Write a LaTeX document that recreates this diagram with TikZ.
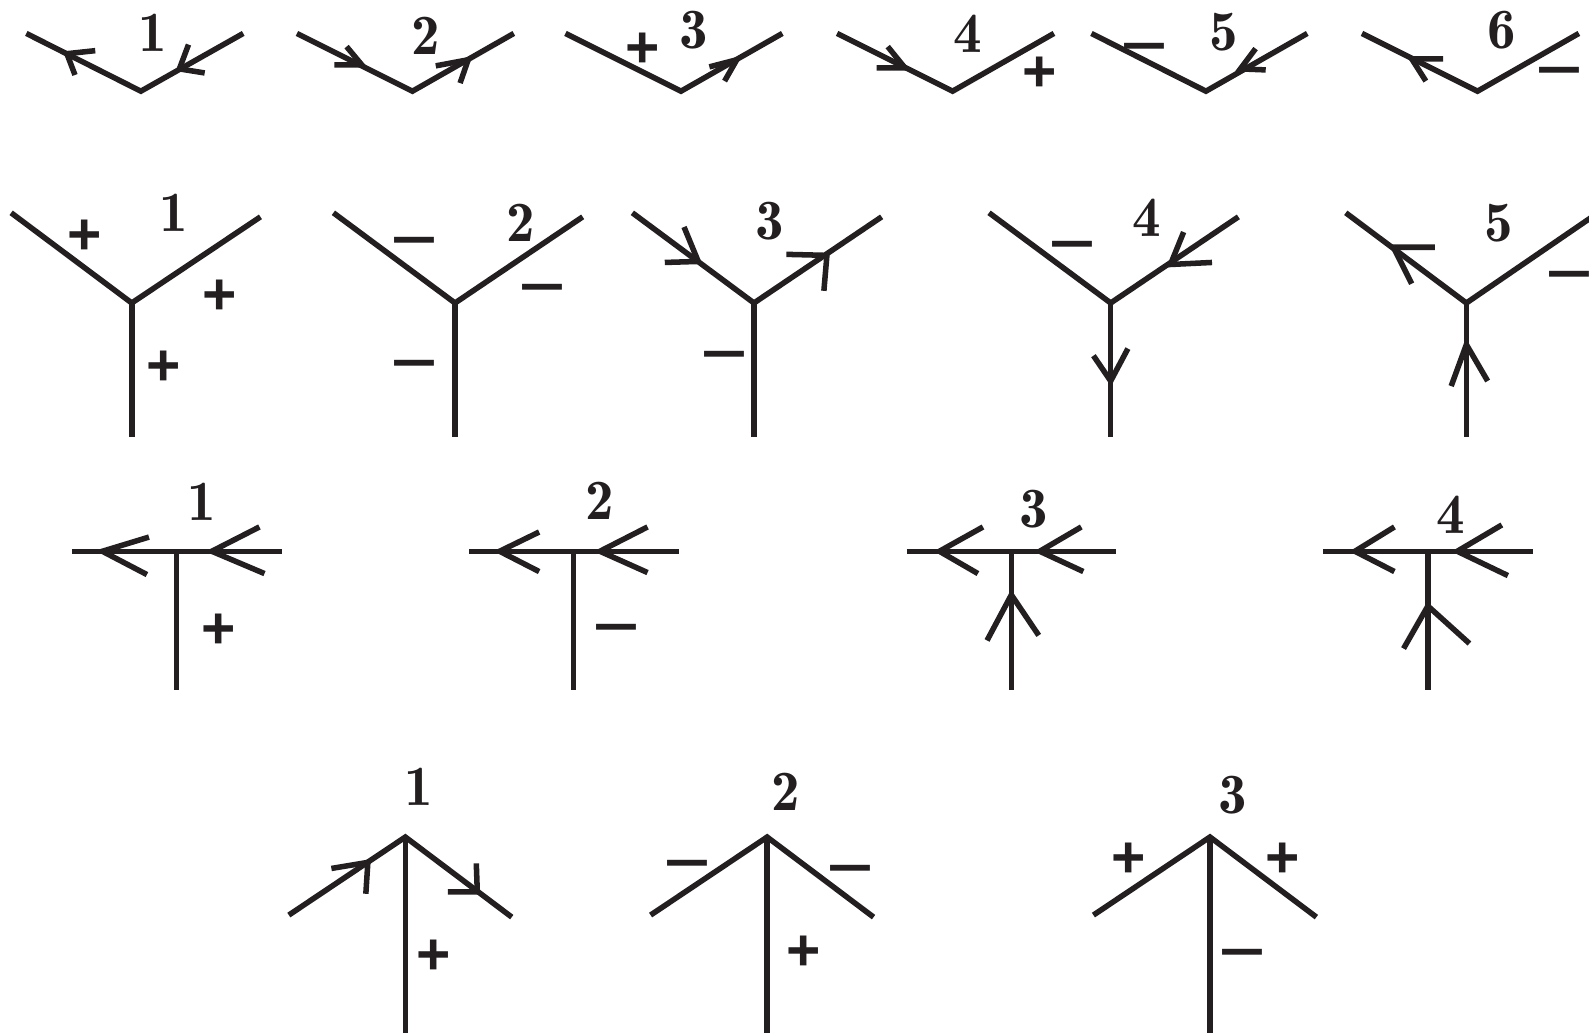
\documentclass[tikz,border=0pt]{standalone}
\usepackage{fontspec}
\newfontfamily\signfont{Liberation Sans}
\usetikzlibrary{positioning}
\tikzset{
  edge/.style={draw=ink,line width=1.55pt},
  barb/.style={draw=ink,line width=1.55pt},
  numlabel/.style={text=ink,inner sep=0pt,font=\fontseries{b}\fontsize{16}{18}\selectfont},
  plus/.style={text=ink,inner sep=0pt,xshift=0.01cm,yshift=-0.03cm,font=\signfont\bfseries\fontsize{16.5}{18}\selectfont},
  minus/.style={text=ink,inner sep=0pt,xshift=0.01cm,yshift=-0.13cm,font=\signfont\fontsize{23}{24}\selectfont}
}
\definecolor{ink}{RGB}{35,31,32}
\begin{document}
\begin{tikzpicture}[x=0.01cm,y=-0.01cm]
\useasboundingbox (0,0) rectangle (1568,1019);
\clip (0,0) rectangle (1568,1019);
\coordinate (va1l) at (26,33); \coordinate (va1c) at (139,90); \coordinate (va1r) at (240,33);
\coordinate (va1p) at (66,53); \coordinate (va1q) at (177,68);
\draw[edge] (va1l)--(va1c)--(va1r);
\draw[barb] (va1p) +(28,-3) -- (va1p) -- +(8,21);
\draw[barb] (va1q) +(9,-24) -- (va1q) -- +(25,4);
\node[numlabel] (na1) at (151,32) {1};
\coordinate (va2l) at (293,33); \coordinate (va2c) at (407,90); \coordinate (va2r) at (507,33);
\coordinate (va2p) at (357,64); \coordinate (va2q) at (462,59);
\draw[edge] (va2l)--(va2c)--(va2r);
\draw[barb] (va2p) +(-15,-18) -- (va2p) -- +(-27,0);
\draw[barb] (va2q) +(-32,6) -- (va2q) -- +(-8,23);
\node[numlabel] (na2) at (420,35) {2};
\coordinate (va3l) at (558,33); \coordinate (va3c) at (672,90); \coordinate (va3r) at (772,33);
\coordinate (va3q) at (727,59);
\draw[edge] (va3l)--(va3c)--(va3r);
\draw[barb] (va3q) +(-27,7) -- (va3q) -- +(-12,21);
\node[plus] (sa3) at (633,47) {+};
\node[numlabel] (na3) at (685,30) {3};
\coordinate (va4l) at (826,33); \coordinate (va4c) at (940,90); \coordinate (va4r) at (1040,33);
\coordinate (va4p) at (893,67);
\draw[edge] (va4l)--(va4c)--(va4r);
\draw[barb] (va4p) +(-17,-21) -- (va4p) -- +(-28,0);
\node[plus] (sa4) at (1025,70) {+};
\node[numlabel] (na4) at (955,33) {4};
\coordinate (va5l) at (1077,33); \coordinate (va5c) at (1190,90); \coordinate (va5r) at (1290,33);
\coordinate (va5q) at (1224,68);
\draw[edge] (va5l)--(va5c)--(va5r);
\draw[barb] (va5q) +(15,-20) -- (va5q) -- +(25,1);
\node[minus] (sa5) at (1128,45) {−};
\node[numlabel] (na5) at (1208,32) {5};
\coordinate (va6l) at (1344,33); \coordinate (va6c) at (1458,90); \coordinate (va6r) at (1558,33);
\coordinate (va6p) at (1393,58);
\draw[edge] (va6l)--(va6c)--(va6r);
\draw[barb] (va6p) +(31,0) -- (va6p) -- +(14,22);
\node[minus] (sa6) at (1538,68) {−};
\node[numlabel] (na6) at (1482,30) {6};
\coordinate (yb1l) at (11,210); \coordinate (yb1c) at (130,299); \coordinate (yb1r) at (257,214); \coordinate (yb1d) at (130,431);
\draw[edge] (yb1l)--(yb1c)--(yb1r);
\draw[edge] (yb1c)--(yb1d);
\node[plus] (sb1a) at (83,231) {+};
\node[plus] (sb1b) at (216,290) {+};
\node[plus] (sb1c) at (161,360) {+};
\node[numlabel] (nb1) at (171,210) {1};
\coordinate (yb2l) at (329,210); \coordinate (yb2c) at (449,299); \coordinate (yb2r) at (575,214); \coordinate (yb2d) at (449,431);
\draw[edge] (yb2l)--(yb2c)--(yb2r);
\draw[edge] (yb2c)--(yb2d);
\node[minus] (sb2a) at (408,236) {−};
\node[minus] (sb2b) at (534,282) {−};
\node[minus] (sb2c) at (408,357) {−};
\node[numlabel] (nb2) at (514,220) {2};
\coordinate (yb3l) at (624,210); \coordinate (yb3c) at (744,299); \coordinate (yb3r) at (870,214); \coordinate (yb3d) at (744,431);
\coordinate (yb3p) at (689,258); \coordinate (yb3q) at (816,252);
\draw[edge] (yb3l)--(yb3c)--(yb3r);
\draw[edge] (yb3c)--(yb3d);
\draw[barb] (yb3p) +(-14,-34) -- (yb3p) -- +(-33,1);
\draw[barb] (yb3q) +(-40,-1) -- (yb3q) -- +(-3,35);
\node[minus] (sb3) at (714,349) {−};
\node[numlabel] (nb3) at (760,218) {3};
\coordinate (yb4l) at (976,210); \coordinate (yb4c) at (1096,299); \coordinate (yb4r) at (1222,214); \coordinate (yb4d) at (1096,431);
\coordinate (yb4p) at (1155,261); \coordinate (yb4e) at (1096,376);
\draw[edge] (yb4l)--(yb4c)--(yb4r);
\draw[edge] (yb4c)--(yb4d);
\draw[barb] (yb4p) +(13,-32) -- (yb4p) -- +(41,-2);
\draw[barb] (yb4e) +(-17,-25) -- (yb4e) -- +(17,-32);
\node[minus] (sb4) at (1057,240) {−};
\node[numlabel] (nb4) at (1132,215) {4};
\coordinate (yb5l) at (1328,210); \coordinate (yb5c) at (1447,299); \coordinate (yb5r) at (1574,212); \coordinate (yb5d) at (1447,431);
\coordinate (yb5p) at (1375,244); \coordinate (yb5e) at (1447,340);
\draw[edge] (yb5l)--(yb5c)--(yb5r);
\draw[edge] (yb5c)--(yb5d);
\draw[barb] (yb5p) +(41,0) -- (yb5p) -- +(18,36);
\draw[barb] (yb5e) +(-15,41) -- (yb5e) -- +(21,36);
\node[minus] (sb5) at (1548,270) {−};
\node[numlabel] (nb5) at (1479,220) {5};
\coordinate (tc1l) at (71,544); \coordinate (tc1c) at (174,544); \coordinate (tc1r) at (278,544); \coordinate (tc1d) at (174,681);
\coordinate (tc1p) at (101,544); \coordinate (tc1q) at (209,544);
\draw[edge] (tc1l)--(tc1r);
\draw[edge] (tc1c)--(tc1d);
\draw[barb] (tc1p) +(46,-14) -- (tc1p) -- +(44,23);
\draw[barb] (tc1q) +(47,-24) -- (tc1q) -- +(52,22);
\node[plus] (sc1) at (215,620) {+};
\node[numlabel] (nc1) at (199,495) {1};
\coordinate (tc2l) at (463,544); \coordinate (tc2c) at (566,544); \coordinate (tc2r) at (670,544); \coordinate (tc2d) at (566,681);
\coordinate (tc2p) at (493,544); \coordinate (tc2q) at (592,544);
\draw[edge] (tc2l)--(tc2r);
\draw[edge] (tc2c)--(tc2d);
\draw[barb] (tc2p) +(39,-19) -- (tc2p) -- +(39,20);
\draw[barb] (tc2q) +(47,-24) -- (tc2q) -- +(47,21);
\node[minus] (sc2) at (607,618) {−};
\node[numlabel] (nc2) at (592,494) {2};
\coordinate (tc3l) at (895,544); \coordinate (tc3c) at (998,544); \coordinate (tc3r) at (1101,544); \coordinate (tc3d) at (998,681);
\coordinate (tc3p) at (927,544); \coordinate (tc3q) at (1026,544); \coordinate (tc3e) at (998,587);
\draw[edge] (tc3l)--(tc3r);
\draw[edge] (tc3c)--(tc3d);
\draw[barb] (tc3p) +(43,-24) -- (tc3p) -- +(38,22);
\draw[barb] (tc3q) +(41,-24) -- (tc3q) -- +(43,20);
\draw[barb] (tc3e) +(-24,45) -- (tc3e) -- +(27,40);
\node[numlabel] (nc3) at (1020,502) {3};
\coordinate (tc4l) at (1306,544); \coordinate (tc4c) at (1409,544); \coordinate (tc4r) at (1513,544); \coordinate (tc4d) at (1409,681);
\coordinate (tc4p) at (1337,544); \coordinate (tc4q) at (1438,544); \coordinate (tc4e) at (1409,598);
\draw[edge] (tc4l)--(tc4r);
\draw[edge] (tc4c)--(tc4d);
\draw[barb] (tc4p) +(39,-24) -- (tc4p) -- +(39,20);
\draw[barb] (tc4q) +(44,-26) -- (tc4q) -- +(50,24);
\draw[barb] (tc4e) +(-24,42) -- (tc4e) -- +(41,37);
\node[numlabel] (nc4) at (1432,508) {4};
\coordinate (ad1l) at (285,903); \coordinate (ad1c) at (400,826); \coordinate (ad1r) at (505,905); \coordinate (ad1d) at (400,1025);
\coordinate (ad1p) at (363,851); \coordinate (ad1q) at (471,880);
\draw[edge] (ad1l)--(ad1c)--(ad1r);
\draw[edge] (ad1c)--(ad1d);
\draw[barb] (ad1p) +(-36,6) -- (ad1p) -- +(-2,31);
\draw[barb] (ad1q) +(-1,-28) -- (ad1q) -- +(-29,0);
\node[plus] (sd1) at (427,942) {+};
\node[numlabel] (nd1) at (413,776) {1};
\coordinate (ad2l) at (642,903); \coordinate (ad2c) at (757,826); \coordinate (ad2r) at (862,905); \coordinate (ad2d) at (757,1025);
\draw[edge] (ad2l)--(ad2c)--(ad2r);
\draw[edge] (ad2c)--(ad2d);
\node[minus] (sd2a) at (677,851) {−};
\node[minus] (sd2b) at (838,856) {−};
\node[plus] (sd2c) at (792,938) {+};
\node[numlabel] (nd2) at (775,781) {2};
\coordinate (ad3l) at (1079,903); \coordinate (ad3c) at (1194,826); \coordinate (ad3r) at (1299,905); \coordinate (ad3d) at (1194,1025);
\draw[edge] (ad3l)--(ad3c)--(ad3r);
\draw[edge] (ad3c)--(ad3d);
\node[plus] (sd3a) at (1113,846) {+};
\node[plus] (sd3b) at (1265,846) {+};
\node[minus] (sd3c) at (1225,939) {−};
\node[numlabel] (nd3) at (1216,785) {3};
\end{tikzpicture}
\end{document}
